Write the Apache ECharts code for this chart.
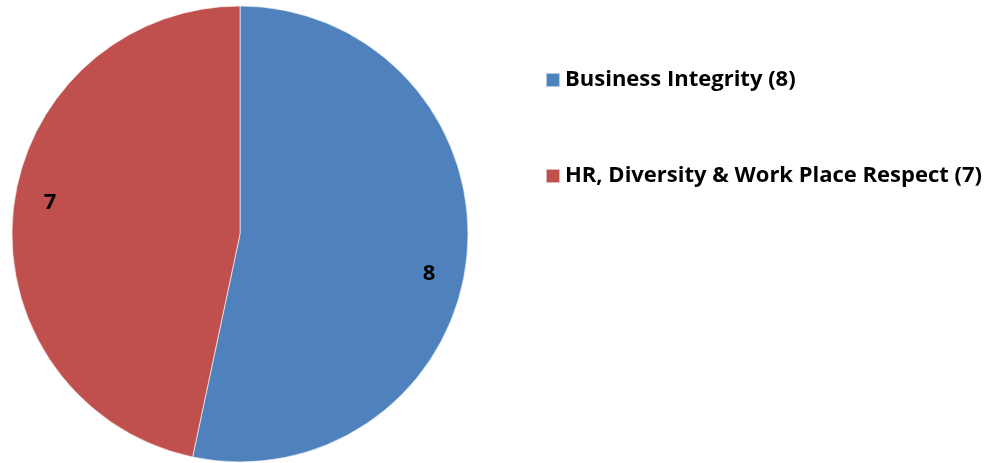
<!DOCTYPE html>
<html><head><meta charset="utf-8">
<script src="https://cdn.jsdelivr.net/npm/echarts@6/dist/echarts.min.js"></script>
<style>html,body{margin:0;padding:0;background:#fff}#c{width:1000px;height:463px}</style>
</head><body><div id="c"></div>
<script>
const categories = ['Business Integrity (8)', 'HR, Diversity & Work Place Respect (7)'];
const values = [8, 7];
const colors = ['#4F81BD', '#C0504D'];
const labelOffsets = [[-5, 19], [4, -11]];

const font = '"Open Sans", sans-serif';
const chart = echarts.init(document.getElementById('c'), null, {renderer: 'canvas'});
const data = categories.map((n, i) => ({name: n, value: values[i], itemStyle: {color: colors[i]}}));
chart.setOption({
  animation: false,
  color: colors,
  legend: {
    orient: 'vertical', left: 540, top: 64,
    itemWidth: 14, itemHeight: 14, itemGap: 74,
    icon: 'rect',
    textStyle: {fontFamily: font, fontWeight: 'bold', fontSize: 22, color: '#000'},
    data: categories
  },
  series: [{
    type: 'pie', center: [240, 234], radius: [0, 228],
    startAngle: 90, clockwise: true,
    itemStyle: {borderColor: 'rgba(255,255,255,0.6)', borderWidth: 1},
    label: {show: false}, labelLine: {show: false}, emphasis: {disabled: true},
    data: data
  }, {
    type: 'pie', center: [240, 234], radius: [156, 228],
    startAngle: 90, clockwise: true, silent: true,
    itemStyle: {color: 'transparent', borderWidth: 0},
    label: {show: true, position: 'inside', fontFamily: font, fontWeight: 'bold', fontSize: 22, color: '#000',
      formatter: p => String(p.value)},
    labelLine: {show: false},
    data: categories.map((n, i) => ({name: n, value: values[i], itemStyle: {color: 'transparent'},
      label: {offset: labelOffsets[i]}}))
  }]
});
</script></body></html>
